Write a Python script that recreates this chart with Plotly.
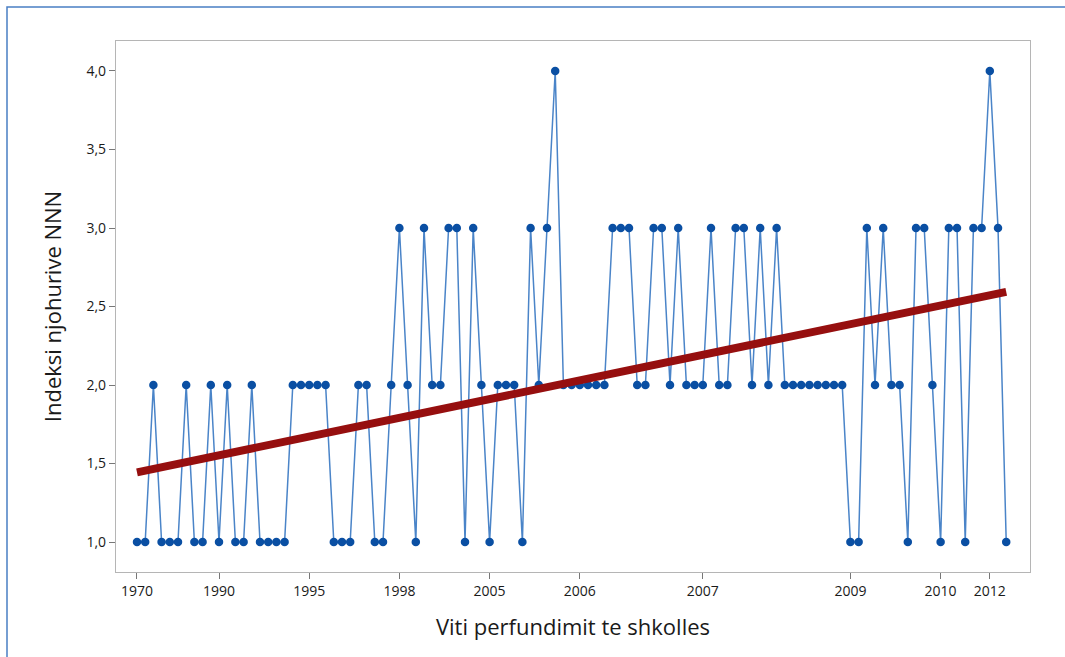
import numpy as np
import plotly.graph_objects as go

# Knowledge index per respondent, ordered by year of finishing school
index_values = [
    1, 1, 2, 1, 1, 1, 2, 1, 1, 2, 1, 2, 1, 1, 2, 1, 1, 1, 1,
    2, 2, 2, 2, 2, 1, 1, 1, 2, 2,
    1, 1, 2, 3, 2, 1, 3, 2, 2, 3, 3,
    1, 3, 2, 1, 2, 2, 2, 1, 3, 2, 3, 4,
    2, 2, 2, 2, 2, 2,
    3, 3, 3, 2, 2, 3, 3, 2, 3, 2, 2, 2, 3, 2, 2, 3, 3, 2, 3, 2, 3,
    2, 2, 2, 2, 2, 2, 2, 2,
    1, 1, 3, 2, 3, 2, 2, 1, 3, 3, 2, 1, 3, 3, 1, 3, 3, 4, 3, 1,
]

# Year labels shown on the axis and the observation they sit under
year_labels = ["1970", "1990", "1995", "1998", "2005", "2006", "2007", "2009", "2010", "2012"]
year_positions = [0, 10, 21, 32, 43, 54, 69, 87, 98, 104]

obs = np.arange(len(index_values))
vals = np.array(index_values, dtype=float)

# Linear trend fitted to the series
slope, intercept = np.polyfit(obs, vals, 1)
trend = slope * obs + intercept

fig = go.Figure()

fig.add_trace(go.Scatter(
    x=obs, y=vals,
    mode="lines+markers",
    line=dict(color="#4a84c8", width=1.5),
    marker=dict(color="#0a4fa3", size=8.5),
    showlegend=False,
))

fig.add_trace(go.Scatter(
    x=obs, y=trend,
    mode="lines",
    line=dict(color="#960f0f", width=8),
    showlegend=False,
))

# Outer frame of the figure
L, R, T, B = 116, 35, 41, 85
W, H = 1065, 657
pw, ph = W - L - R, H - T - B


def px_x(p):
    return (p - L) / pw


def px_y(p):
    return (H - B - p) / ph


fig.add_shape(
    type="rect", xref="paper", yref="paper",
    x0=px_x(7), x1=px_x(1080), y0=px_y(680), y1=px_y(7),
    line=dict(color="#4a7fc4", width=1.5),
    fillcolor="rgba(0,0,0,0)", layer="below",
)

font_family = "Open Sans, Noto Sans, sans-serif"

fig.update_layout(
    width=W, height=H,
    margin=dict(l=L, r=R, t=T, b=B),
    paper_bgcolor="white",
    plot_bgcolor="white",
    separators=",.",
    font=dict(family=font_family, color="#1a1a1a"),
    xaxis=dict(
        range=[-2.56, 108.9],
        tickmode="array",
        tickvals=year_positions,
        ticktext=year_labels,
        ticks="outside", ticklen=6, tickcolor="#777777",
        tickfont=dict(size=14, color="#1a1a1a"),
        showgrid=False, zeroline=False,
        showline=True, linecolor="#b5b5b5", linewidth=1.2, mirror=True,
        title=dict(text="Viti perfundimit te shkolles",
                   font=dict(size=22, color="#1a1a1a"), standoff=20),
    ),
    yaxis=dict(
        range=[0.809, 4.191],
        tickmode="array",
        tickvals=[1.0, 1.5, 2.0, 2.5, 3.0, 3.5, 4.0],
        tickformat=".1f",
        ticks="outside", ticklen=6, tickcolor="#777777",
        tickfont=dict(size=14, color="#1a1a1a"),
        showgrid=False, zeroline=False,
        showline=True, linecolor="#b5b5b5", linewidth=1.2, mirror=True,
        title=dict(text="Indeksi njohurive NNN",
                   font=dict(size=22, color="#1a1a1a"), standoff=18),
    ),
)

fig.write_html("out.html")
